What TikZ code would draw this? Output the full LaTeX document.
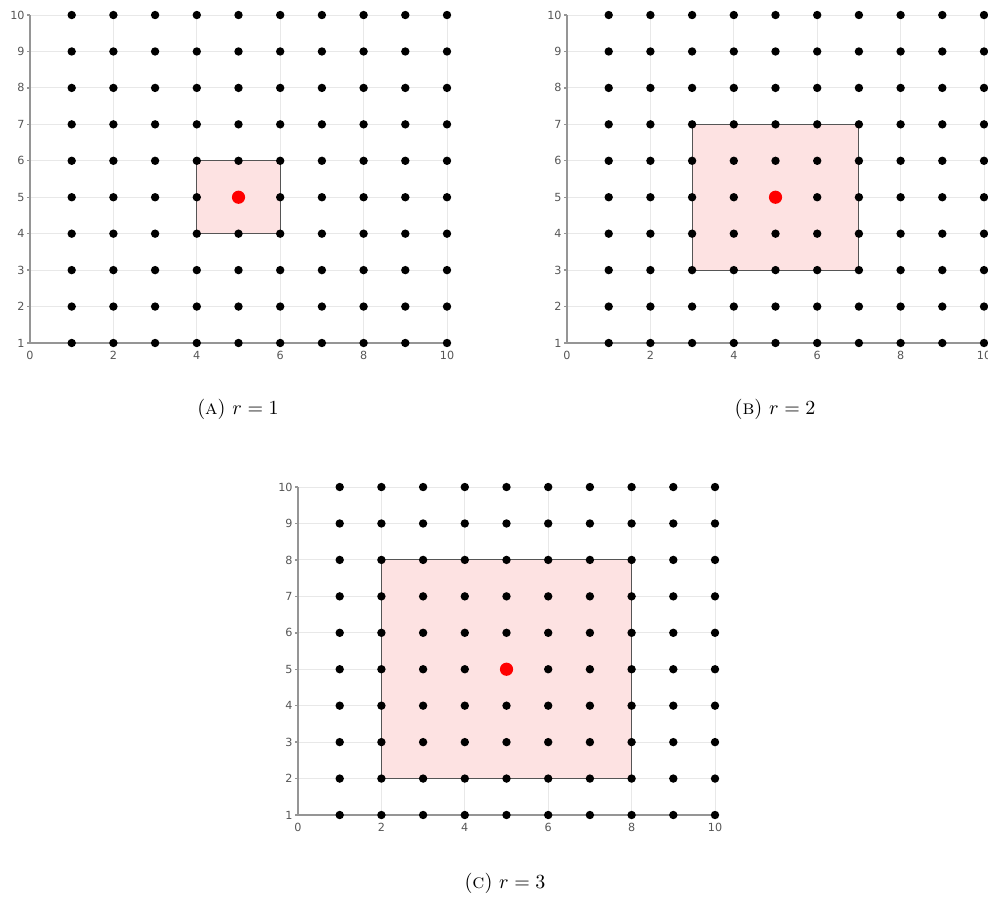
\documentclass[tikz,border=0pt]{standalone}
\usepackage{fontspec}
\newfontfamily\ticksfont{DejaVu Sans}
\definecolor{gridc}{HTML}{E8E8E8}
\definecolor{axisc}{HTML}{959595}
\definecolor{tickc}{HTML}{555555}
\definecolor{boxfill}{HTML}{FDE2E2}
\definecolor{boxline}{HTML}{555555}
\tikzset{
  gridline/.style={draw=gridc, line width=0.5pt},
  axisline/.style={draw=axisc, line width=0.7pt},
  ticklabel/.style={font=\ticksfont\fontsize{5.6}{6}\selectfont, text=tickc, inner sep=0pt},
  nbhbox/.style={fill=boxfill, draw=boxline, line width=0.5pt},
  latdot/.style={fill=black},
  centerdot/.style={fill=red},
  captxt/.style={font=\fontsize{10.2}{12}\selectfont, inner sep=0pt}
}
\newcommand\plotpanel[2]{%
  \foreach \gx in {2,4,6,8,10} \draw[gridline] (\gx,1) -- (\gx,10);
  \foreach \gy in {2,...,10} \draw[gridline] (0,\gy) -- (10,\gy);
  \draw[nbhbox] (5-#1,5-#1) rectangle (5+#1,5+#1);
  \draw[axisline] (0,10) -- (0,1) -- (10,1);
  \foreach \gy in {1,...,10} {
    \draw[axisline] (0,\gy) -- ++(-1.5pt,0);
    \node[ticklabel, anchor=east] (#2-y\gy) at ([xshift=-2.5pt]0,\gy) {\gy};
  }
  \foreach \gx in {0,2,4,6,8,10}
    \node[ticklabel, anchor=base] (#2-x\gx) at ([yshift=-8.3pt]\gx,1) {\gx};
  \foreach \gx in {1,...,10}
    \foreach \gy in {1,...,10}
      \fill[latdot] (\gx,\gy) circle (2.1pt);
  \fill[centerdot] (5,5) circle (3.3pt);
}
\begin{document}
\begin{tikzpicture}
\useasboundingbox (0,0) rectangle (494pt,450pt);
\begin{scope}[shift={(15pt,260.28pt)}, x=20.85pt, y=18.22pt]
  \plotpanel{1}{a}
\end{scope}
\begin{scope}[shift={(283.5pt,260.28pt)}, x=20.85pt, y=18.22pt]
  \plotpanel{2}{b}
\end{scope}
\begin{scope}[shift={(149pt,24.28pt)}, x=20.85pt, y=18.22pt]
  \plotpanel{3}{c}
\end{scope}
\node[captxt] (capa) at (119pt,245.5pt) {(\textsc{a}) $r=1$};
\node[captxt] (capb) at (387.5pt,245.5pt) {(\textsc{b}) $r=2$};
\node[captxt] (capc) at (252.5pt,8.5pt) {(\textsc{c}) $r=3$};
\end{tikzpicture}
\end{document}
